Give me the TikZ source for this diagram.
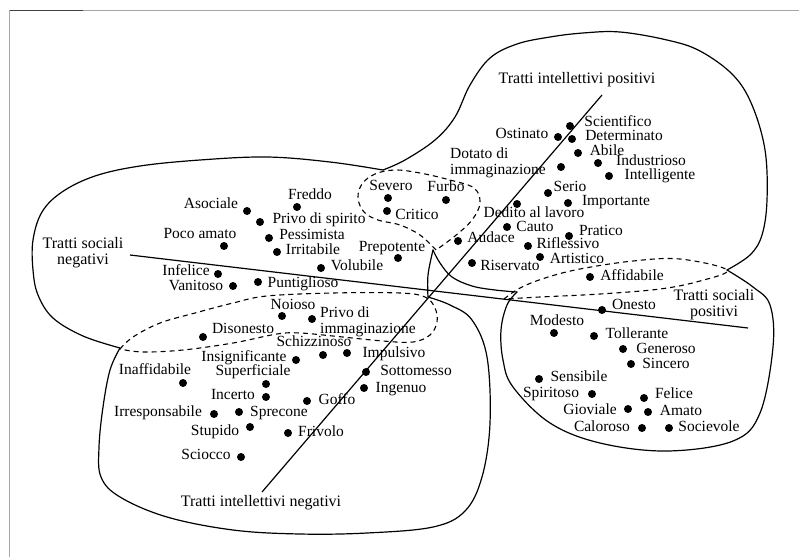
\documentclass[tikz,border=0pt]{standalone}
\usepackage{fontspec}
\setmainfont{Liberation Serif}
\begin{document}
\begin{tikzpicture}[x=1pt,y=-1pt,
  dot/.style={circle,fill=black,inner sep=0pt,minimum size=8pt},
  lbl/.style={inner sep=0pt,text height=10pt,text depth=3pt,font=\fontsize{15.5}{16}\selectfont},
  lbl2/.style={inner sep=0pt,align=left,font=\fontsize{15.5}{16}\selectfont},
  ttl/.style={inner sep=0pt,align=center,font=\fontsize{16}{16}\selectfont},
  blob/.style={line width=1.2pt,line cap=round,line join=round},
  dloop/.style={line width=1.1pt,dash pattern=on 5pt off 4pt},
  axis/.style={line width=1.2pt}]
\useasboundingbox (0,0) rectangle (799,557);
% frame
\draw[line width=1pt,black!75] (9,10) -- (83,10);
\draw[line width=1pt,black!35] (83,10) -- (799,10);
\draw[line width=1pt,black!35] (9,10) -- (9,557);

% main contour
\draw[blob] plot[smooth,tension=0.6] coordinates {(383,170) (330,162) (267,157) (200,160) (140,166) (95,176) (62,192) (42,212) (33,240) (33,270) (38,295) (53,318) (83,336) (120,348)};
\draw[blob] plot[smooth,tension=0.6] coordinates {(120,348) (110,370) (103,407) (99,447) (101,477) (120,497) (167,517) (233,530) (300,534) (367,533) (433,527) (465,511) (482,477) (490,423) (487,357) (472,320) (450,305) (428,297)};
\draw[blob] plot[smooth,tension=0.6] coordinates {(428,297) (428,275) (433,250)};
\draw[blob] plot[smooth,tension=0.6] coordinates {(433,250) (440,263) (452,277) (472,286) (495,290) (517,292)};
\draw[blob] plot[smooth,tension=0.6] coordinates {(517,292) (507,305) (501,330) (503,360) (513,387) (550,423) (600,443) (667,451) (733,441) (760,413) (773,347) (770,305) (753,287) (727,270)};
\draw[blob] plot[smooth,tension=0.6] coordinates {(727,270) (750,255) (762,235) (767,200) (765,150) (752,105) (733,75) (700,51) (667,40) (620,32) (583,33) (550,37) (517,44) (490,58) (470,85) (455,117) (435,140) (405,160) (383,170)};

% dashed loops
\draw[dloop] plot[smooth,tension=0.6] coordinates {(436,250) (420,235) (400,225) (378,220) (364,212) (358,198) (362,184) (375,174) (395,170) (420,173) (450,180) (474,188) (480,203) (472,220) (455,236) (436,250)};
\draw[dloop] plot[smooth,tension=0.6] coordinates {(120,349) (133,337) (160,323) (195,313) (233,303) (267,296) (333,293) (400,293) (425,297) (435,308) (437,322) (430,335) (413,342) (383,341) (333,336) (300,333) (277,334) (233,343) (183,350) (143,352) (120,349)};
\draw[dloop] plot[smooth,tension=0.6] coordinates {(504,299) (520,288) (545,278) (580,269) (633,261) (680,259) (727,270) (700,281) (660,289) (600,294) (540,297) (504,299)};

% axes
\coordinate (ipos) at (602,95);
\coordinate (ineg) at (262,492);
\coordinate (sneg) at (130,255);
\coordinate (spos) at (748,328);
\draw[axis] (ipos) -- (ineg);
\draw[axis] (sneg) -- (spos);

% axis titles
\node[ttl] (tip) at (577,80) {Tratti intellettivi positivi};
\node[ttl] (tin) at (261,503) {Tratti intellettivi negativi};
\node[ttl] (tsn) at (83,253) {Tratti sociali\\negativi};
\node[ttl] (tsp) at (714,305) {Tratti sociali\\positivi};

% social negative
\node[dot] (dAso) at (247,211) {}; \node[lbl] (lAso) at (211,205) {Asociale};
\node[dot] (dFre) at (297,207) {}; \node[lbl] (lFre) at (310,196) {Freddo};
\node[dot] (dPsp) at (260,222) {}; \node[lbl] (lPsp) at (319,220) {Privo di spirito};
\node[dot] (dPoc) at (224,246) {}; \node[lbl] (lPoc) at (200,235) {Poco amato};
\node[dot] (dPes) at (269,238) {}; \node[lbl] (lPes) at (312,236) {Pessimista};
\node[dot] (dIrr) at (277,252) {}; \node[lbl] (lIrr) at (313,251) {Irritabile};
\node[dot] (dPre) at (398,258) {}; \node[lbl] (lPre) at (392,248) {Prepotente};
\node[dot] (dVol) at (321,268) {}; \node[lbl] (lVol) at (357,267) {Volubile};
\node[dot] (dInf) at (218,274) {}; \node[lbl] (lInf) at (186,272) {Infelice};
\node[dot] (dVan) at (233,286) {}; \node[lbl] (lVan) at (196,287) {Vanitoso};
\node[dot] (dPun) at (258,282) {}; \node[lbl] (lPun) at (303,284) {Puntiglioso};
\node[dot] (dSev) at (388,198) {}; \node[lbl] (lSev) at (391,187) {Severo};
\node[dot] (dFur) at (446,200) {}; \node[lbl] (lFur) at (446,188) {Furbo};
\node[dot] (dCri) at (387,211) {}; \node[lbl] (lCri) at (417,216) {Critico};

% intellect positive
\node[dot] (dSci) at (570,126) {}; \node[lbl] (lSci) at (618,123) {Scientifico};
\node[dot] (dOst) at (558,137) {}; \node[lbl] (lOst) at (522,135) {Ostinato};
\node[dot] (dDet) at (572,139) {}; \node[lbl] (lDet) at (624,137) {Determinato};
\node[dot] (dAbi) at (578,153) {}; \node[lbl] (lAbi) at (607,151.5) {Abile};
\node[dot] (dDot) at (561,167) {}; \node[lbl2,anchor=west] (lDot) at (450,163) {Dotato di\\immaginazione};
\node[dot] (dInd) at (598,163) {}; \node[lbl] (lInd) at (651,161.5) {Industrioso};
\node[dot] (dInt) at (609,176) {}; \node[lbl] (lInt) at (660,176) {Intelligente};
\node[dot] (dSer) at (548,193) {}; \node[lbl] (lSer) at (570,188) {Serio};
\node[dot] (dImp) at (568,203) {}; \node[lbl] (lImp) at (616,202) {Importante};
\node[dot] (dDed) at (517,204) {}; \node[lbl] (lDed) at (534,214) {Dedito al lavoro};
\node[dot] (dCau) at (507,227) {}; \node[lbl] (lCau) at (535,228) {Cauto};
\node[dot] (dPra) at (569,236) {}; \node[lbl] (lPra) at (601,232) {Pratico};
\node[dot] (dAud) at (458,241) {}; \node[lbl] (lAud) at (491,239) {Audace};
\node[dot] (dRif) at (528,246) {}; \node[lbl] (lRif) at (568,245) {Riflessivo};
\node[dot] (dArt) at (540,257) {}; \node[lbl] (lArt) at (577,260) {Artistico};
\node[dot] (dRis) at (472,263) {}; \node[lbl] (lRis) at (510,267) {Riservato};
\node[dot] (dAff) at (590,277) {}; \node[lbl] (lAff) at (632,277) {Affidabile};

% social positive
\node[dot] (dOne) at (602,310) {}; \node[lbl] (lOne) at (634,306) {Onesto};
\node[dot] (dMod) at (554,333) {}; \node[lbl] (lMod) at (557,322) {Modesto};
\node[dot] (dTol) at (594,336) {}; \node[lbl] (lTol) at (637,335) {Tollerante};
\node[dot] (dGen) at (623,349) {}; \node[lbl] (lGen) at (666,350) {Generoso};
\node[dot] (dSin) at (631,364) {}; \node[lbl] (lSin) at (666,365) {Sincero};
\node[dot] (dSen) at (539,379) {}; \node[lbl] (lSen) at (579,378) {Sensibile};
\node[dot] (dSpi) at (592,394) {}; \node[lbl] (lSpi) at (551,394) {Spiritoso};
\node[dot] (dFel) at (644,398) {}; \node[lbl] (lFel) at (674,395) {Felice};
\node[dot] (dGio) at (628,409) {}; \node[lbl] (lGio) at (590,411) {Gioviale};
\node[dot] (dAma) at (648,412) {}; \node[lbl] (lAma) at (681,412) {Amato};
\node[dot] (dCal) at (642,428) {}; \node[lbl] (lCal) at (602,428) {Caloroso};
\node[dot] (dSoc) at (669,428) {}; \node[lbl] (lSoc) at (709,428) {Socievole};

% intellect negative
\node[dot] (dNoi) at (282,316) {}; \node[lbl] (lNoi) at (293,306) {Noioso};
\node[dot] (dPim) at (312,319) {}; \node[lbl2,anchor=west] (lPim) at (320,321.5) {Privo di\\immaginazione};
\node[dot] (dDis) at (203,337) {}; \node[lbl] (lDis) at (243,330) {Disonesto};
\node[dot] (dSch) at (323,355) {}; \node[lbl] (lSch) at (314,343) {Schizzinoso};
\node[dot] (dIns) at (296,360) {}; \node[lbl] (lIns) at (244,358) {Insignificante};
\node[dot] (dImu) at (347,353) {}; \node[lbl] (lImu) at (394,354) {Impulsivo};
\node[dot] (dIna) at (183,383) {}; \node[lbl] (lIna) at (155,371) {Inaffidabile};
\node[dot] (dSup) at (266,384) {}; \node[lbl] (lSup) at (253,372) {Superficiale};
\node[dot] (dSot) at (366,372) {}; \node[lbl] (lSot) at (416,372) {Sottomesso};
\node[dot] (dIng) at (364,388) {}; \node[lbl] (lIng) at (401,389) {Ingenuo};
\node[dot] (dInc) at (266,397) {}; \node[lbl] (lInc) at (233,396) {Incerto};
\node[dot] (dGof) at (307,401) {}; \node[lbl] (lGof) at (337,401) {Goffo};
\node[dot] (dIre) at (214,414) {}; \node[lbl] (lIre) at (158,413) {Irresponsabile};
\node[dot] (dSpr) at (239,412) {}; \node[lbl] (lSpr) at (279,413) {Sprecone};
\node[dot] (dStu) at (250,427) {}; \node[lbl] (lStu) at (215,432) {Stupido};
\node[dot] (dFri) at (288,433) {}; \node[lbl] (lFri) at (321,433) {Frivolo};
\node[dot] (dSci2) at (241,457) {}; \node[lbl] (lSci2) at (206,456) {Sciocco};
\end{tikzpicture}
\end{document}
